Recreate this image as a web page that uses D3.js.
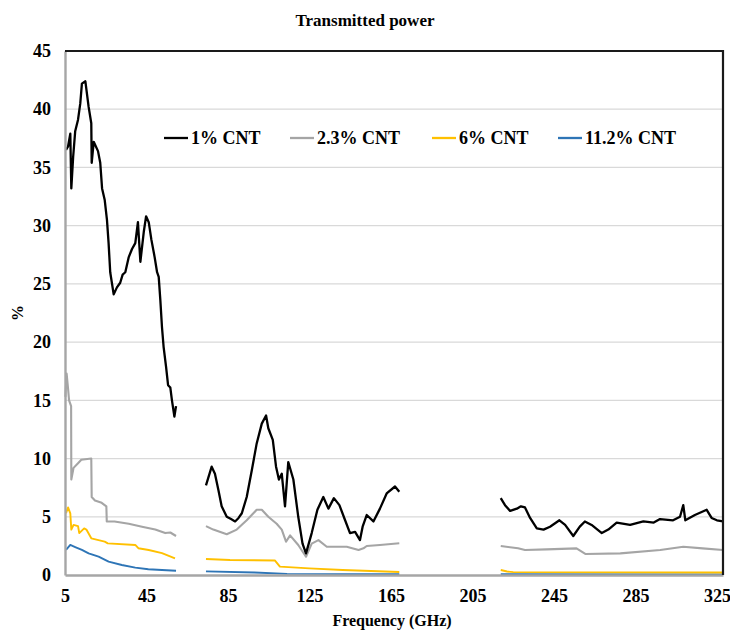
<!DOCTYPE html>
<html>
<head>
<meta charset="utf-8">
<script src="https://cdn.jsdelivr.net/npm/d3@7"></script>
<style>
  html, body { margin: 0; padding: 0; background: #fff; }
  svg text { font-family: "Liberation Serif", "Times New Roman", serif; font-weight: bold; fill: #000; }
</style>
</head>
<body>
<svg id="chart" width="730" height="633"></svg>
<script>
const xTicks = [5, 45, 85, 125, 165, 205, 245, 285, 325];
const yTicks = [0, 5, 10, 15, 20, 25, 30, 35, 40, 45];
const seriesNames = ["1% CNT", "2.3% CNT", "6% CNT", "11.2% CNT"];

const freq1 = [5.5, 6.5, 7.6, 8.1, 9.0, 10.0, 11.4, 12.5, 13.3, 15.0, 16.6, 17.9, 18.1, 19.1, 21.2, 22.3, 23.2, 24.5, 25.6, 26.4, 27.2, 28.9, 30.5, 32.1, 33.3, 34.6, 36.3, 37.9, 39.5, 40.8, 42.0, 43.7, 44.8, 46.1, 47.4, 49.0, 50.2, 51.0, 51.8, 52.6, 53.4, 54.6, 55.6, 56.7, 57.5, 58.7, 59.5,
  null,
  74.2, 77.0, 78.6, 80.3, 81.9, 84.4, 86.5, 88.5, 90.2, 91.8, 94.2, 96.7, 99.1, 101.6, 103.7, 104.8, 107.0, 108.6, 110.0, 111.4, 113.0, 114.6, 117.1, 119.5, 121.6, 123.3, 126.1, 128.9, 131.8, 134.3, 137.0, 139.7, 142.5, 144.9, 147.4, 149.8, 151.1, 153.1, 156.4, 159.6, 162.9, 167.0, 169.1,
  null,
  218.9, 221.0, 223.5, 226.8, 228.8, 230.8, 233.3, 236.6, 239.9, 243.1, 247.7, 250.5, 254.5, 257.7, 260.2, 263.5, 268.5, 271.7, 275.8, 282.4, 288.9, 294.0, 297.1, 303.5, 306.9, 308.5, 309.5, 314.2, 320.0, 322.4, 325.0, 328.0];
const vals1 = [36.5, 36.8, 37.9, 33.2, 35.9, 38.1, 39.1, 40.5, 42.2, 42.4, 40.2, 38.8, 35.4, 37.2, 36.4, 35.4, 33.2, 32.2, 30.5, 28.5, 26.0, 24.1, 24.7, 25.1, 25.8, 26.0, 27.3, 28.0, 28.5, 30.3, 26.9, 29.5, 30.8, 30.3, 28.8, 27.3, 26.0, 25.6, 23.6, 21.3, 19.6, 17.9, 16.3, 16.1, 15.0, 13.6, 14.5,
  null,
  7.7, 9.3, 8.7, 7.3, 5.9, 5.0, 4.8, 4.6, 4.9, 5.3, 6.7, 9.0, 11.3, 13.0, 13.7, 12.6, 11.6, 9.3, 8.2, 8.7, 5.9, 9.7, 8.2, 5.0, 2.7, 1.86, 3.6, 5.6, 6.7, 5.7, 6.6, 6.0, 4.7, 3.6, 3.7, 3.0, 4.15, 5.15, 4.6, 5.7, 7.0, 7.6, 7.15,
  null,
  6.6, 6.0, 5.5, 5.7, 5.9, 5.8, 4.9, 4.0, 3.9, 4.15, 4.7, 4.3, 3.35, 4.15, 4.6, 4.3, 3.6, 3.9, 4.5, 4.3, 4.6, 4.5, 4.8, 4.7, 5.0, 6.0, 4.7, 5.15, 5.6, 4.9, 4.7, 4.6];

const freq2 = [5.2, 5.8, 6.5, 7.0, 8.0, 8.1, 9.2, 11.4, 13.0, 17.9, 18.1, 19.7, 23.0, 25.3, 25.5, 29.3, 36.3, 42.8, 49.3, 54.2, 56.7, 59.5,
  null,
  74.2, 77.8, 84.4, 89.3, 94.2, 99.1, 101.6, 104.8, 108.9, 111.4, 113.5, 115.5, 119.5, 123.3, 126.1, 129.4, 133.5, 143.3, 149.1, 151.5, 153.1, 159.6, 169.1,
  null,
  218.9, 227.4, 230.8, 241.4, 256.1, 260.6, 277.6, 297.2, 308.5, 318.0, 328.0];
const vals2 = [15.3, 17.3, 16.0, 15.0, 14.5, 8.2, 9.2, 9.6, 9.9, 10.0, 6.7, 6.4, 6.2, 5.9, 4.6, 4.6, 4.4, 4.15, 3.9, 3.6, 3.65, 3.35,
  null,
  4.2, 3.9, 3.5, 3.9, 4.7, 5.6, 5.6, 5.0, 4.4, 3.9, 2.86, 3.4, 2.58, 1.57, 2.7, 3.0, 2.43, 2.43, 2.15, 2.29, 2.49, 2.58, 2.72,
  null,
  2.49, 2.29, 2.15, 2.2, 2.29, 1.8, 1.86, 2.15, 2.43, 2.29, 2.15];

const freq3 = [5.5, 6.5, 7.6, 8.1, 9.2, 11.4, 12.0, 14.4, 15.5, 17.9, 24.5, 26.0, 39.5, 41.0, 46.1, 52.6, 59.0,
  null,
  74.2, 86.0, 108.0, 110.5, 124.9, 141.3, 169.1,
  null,
  218.9, 222.0, 225.0, 328.0];
const vals3 = [5.3, 5.8, 5.3, 3.9, 4.3, 4.2, 3.6, 4.0, 3.9, 3.15, 2.86, 2.72, 2.58, 2.3, 2.15, 1.88, 1.43,
  null,
  1.37, 1.29, 1.25, 0.72, 0.57, 0.43, 0.26,
  null,
  0.43, 0.3, 0.25, 0.22];

const freq4 = [5.5, 7.6, 10.0, 13.3, 16.6, 21.5, 26.4, 32.9, 39.5, 45.9, 52.6, 59.5,
  null,
  74.2, 98.0, 114.0, 169.1,
  null,
  218.9, 328.0];
const vals4 = [2.15, 2.58, 2.4, 2.15, 1.86, 1.57, 1.15, 0.86, 0.63, 0.49, 0.43, 0.37,
  null,
  0.31, 0.22, 0.1, 0.06,
  null,
  0.06, 0.05];

// ---- layout ----
const svg = d3.select("#chart");
const mLeft = 65, mRight = 723, mTop = 51, mBottom = 575;
const x = d3.scaleLinear().domain([5, 328]).range([mLeft, mRight]);
const y = d3.scaleLinear().domain([0, 45]).range([mBottom, mTop]);

const colors = ["#000000", "#a5a5a5", "#ffc000", "#2e75b6"];
const widths = [2.3, 2.1, 1.9, 1.9];

// gridlines
svg.append("g")
  .selectAll("line")
  .data(yTicks.filter(t => t > 0 && t < 45))
  .join("line")
  .attr("x1", mLeft).attr("x2", mRight)
  .attr("y1", d => y(d)).attr("y2", d => y(d))
  .attr("stroke", "#d9d9d9").attr("stroke-width", 1.2);

// series
const allSeries = [
  {f: freq1, v: vals1}, {f: freq2, v: vals2}, {f: freq3, v: vals3}, {f: freq4, v: vals4}
];
const line = d3.line()
  .defined(d => d[0] !== null && d[1] !== null)
  .x(d => x(d[0])).y(d => y(d[1]));

// draw in reverse so black is on top
for (let i = allSeries.length - 1; i >= 0; i--) {
  const s = allSeries[i];
  const pts = s.f.map((f, k) => [f, s.v[k]]);
  svg.append("path")
    .attr("d", line(pts))
    .attr("fill", "none")
    .attr("stroke", colors[i])
    .attr("stroke-width", widths[i])
    .attr("stroke-linejoin", "round");
}

// axes
const xAxis = d3.axisBottom(x).tickValues(xTicks).tickSize(0).tickPadding(14);
const gx = svg.append("g").attr("transform", `translate(0,${mBottom})`).call(xAxis);
gx.select(".domain").attr("stroke", "#a6a6a6").attr("stroke-width", 2.4);
gx.selectAll("text").style("font-size", "18px").style("font-family", "Liberation Serif").style("font-weight", "bold");

const yAxis = d3.axisLeft(y).tickValues(yTicks).tickSize(0).tickPadding(14);
const gy = svg.append("g").attr("transform", `translate(${mLeft},0)`).call(yAxis);
gy.select(".domain").attr("stroke", "#a6a6a6").attr("stroke-width", 2.4);
gy.selectAll("text").style("font-size", "18px").style("font-family", "Liberation Serif").style("font-weight", "bold");

// top and right border (black)
svg.append("path")
  .attr("d", `M${mLeft},${mTop}H${mRight}V${mBottom}`)
  .attr("fill", "none").attr("stroke", "#1a1a1a").attr("stroke-width", 2.2);

// titles
svg.append("text").attr("x", 365).attr("y", 26).attr("text-anchor", "middle")
  .style("font-size", "17px").text("Transmitted power");
svg.append("text").attr("x", 392).attr("y", 626).attr("text-anchor", "middle")
  .style("font-size", "16px").text("Frequency (GHz)");
svg.append("text").attr("transform", "translate(23,313) rotate(-90)").attr("text-anchor", "middle")
  .style("font-size", "16px").text("%");

// legend
const legendX = [164, 290, 432, 558];
const lg = svg.append("g");
seriesNames.forEach((name, i) => {
  lg.append("line").attr("x1", legendX[i]).attr("x2", legendX[i] + 24)
    .attr("y1", 138).attr("y2", 138)
    .attr("stroke", colors[i]).attr("stroke-width", 2.3);
  lg.append("text").attr("x", legendX[i] + 27).attr("y", 144)
    .style("font-size", "18px").text(name);
});
</script>
</body>
</html>
